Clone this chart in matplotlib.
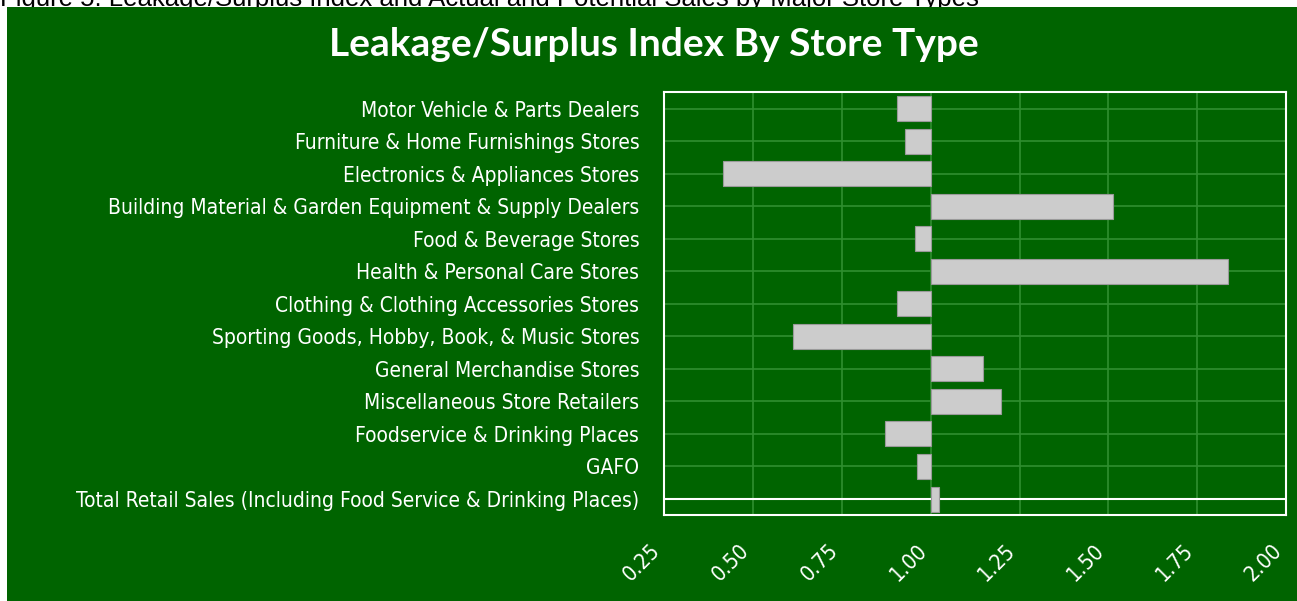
import matplotlib
matplotlib.use('Agg')
import matplotlib.pyplot as plt
from matplotlib import font_manager
from matplotlib.patches import Rectangle
import numpy as np

categories = [
    'Motor Vehicle & Parts Dealers',
    'Furniture & Home Furnishings Stores',
    'Electronics & Appliances Stores',
    'Building Material & Garden Equipment & Supply Dealers',
    'Food & Beverage Stores',
    'Health & Personal Care Stores',
    'Clothing & Clothing Accessories Stores',
    'Sporting Goods, Hobby, Book, & Music Stores',
    'General Merchandise Stores',
    'Miscellaneous Store Retailers',
    'Foodservice & Drinking Places',
    'GAFO',
    'Total Retail Sales (Including Food Service & Drinking Places)',
]
index_values = [0.906, 0.928, 0.416, 1.512, 0.956, 1.838, 0.906,
                0.613, 1.147, 1.197, 0.871, 0.962, 1.022]
x_ticks = [0.25, 0.50, 0.75, 1.00, 1.25, 1.50, 1.75, 2.00]

title = 'Leakage/Surplus Index By Store Type'
caption = 'Figure 5: Leakage/Surplus Index and Actual and Potential Sales by Major Store Types'

GREEN = '#006400'
GRID = '#2f8f2f'
BAR = '#cccccc'

# pick a narrow font for the labels if there is one
names = set(f.name for f in font_manager.fontManager.ttflist)
if 'Liberation Sans Narrow' in names:
  narrow = dict(family='Liberation Sans Narrow')
else:
  narrow = dict(family='DejaVu Sans', stretch='condensed')
title_font = 'Lato' if 'Lato' in names else 'DejaVu Sans'


def main():
  fig = plt.figure(figsize=(12.97, 6.01), dpi=100)
  fig.patch.set_facecolor('white')

  # green panel behind everything
  W, H = 1297.0, 601.0
  fig.patches.append(Rectangle((7 / W, 0), 1 - 7 / W, 1 - 7 / H,
                               transform=fig.transFigure,
                               facecolor=GREEN, edgecolor='none', zorder=-10))

  fig.text(0.0, 1 - 6 / H, caption, fontsize=18.5, color='black',
           family='Liberation Sans', va='baseline', ha='left', zorder=-20)
  fig.text(654 / W, 1 - 56 / H, title, fontsize=28, fontweight='bold',
           color='white', family=title_font, ha='center', va='baseline')

  ax = fig.add_axes([664.3 / W, 1 - 515.3 / H, (1286 - 664.3) / W, (515.3 - 92.3) / H])
  ax.set_facecolor(GREEN)

  y = np.arange(len(categories))
  vals = np.array(index_values)
  ax.barh(y, vals - 1.0, left=1.0, height=0.77, color=BAR,
          edgecolor='#9a9a9a', linewidth=0.8, zorder=3)

  ax.axhline(y[-1], color='white', lw=1.5, zorder=2)

  ax.set_xlim(0.25, 2.0)
  ax.set_ylim(len(categories) - 0.5, -0.5)
  ax.set_xticks(x_ticks)
  ax.set_xticklabels(['%.2f' % t for t in x_ticks])
  ax.set_yticks(y)
  ax.set_yticklabels(categories)

  ax.grid(True, color=GRID, lw=1.2, zorder=1)
  ax.set_axisbelow(True)
  ax.tick_params(length=0)
  ax.tick_params(axis='y', pad=18, colors='white')
  ax.tick_params(axis='x', pad=18, colors='white')
  for lab in ax.get_yticklabels():
    lab.set_fontsize(15)
    lab.set_family(narrow['family'])
    if 'stretch' in narrow:
      lab.set_stretch(narrow['stretch'])
  for lab in ax.get_xticklabels():
    lab.set_fontsize(15.5)
    lab.set_rotation(45)
    lab.set_ha('right')
    lab.set_va('top')
    lab.set_family(narrow['family'])
    if 'stretch' in narrow:
      lab.set_stretch(narrow['stretch'])

  for s in ax.spines.values():
    s.set_color('white')
    s.set_linewidth(1.5)

  fig.savefig('out.png', dpi=100, facecolor=fig.get_facecolor())

if __name__ == "__main__":
  main()
